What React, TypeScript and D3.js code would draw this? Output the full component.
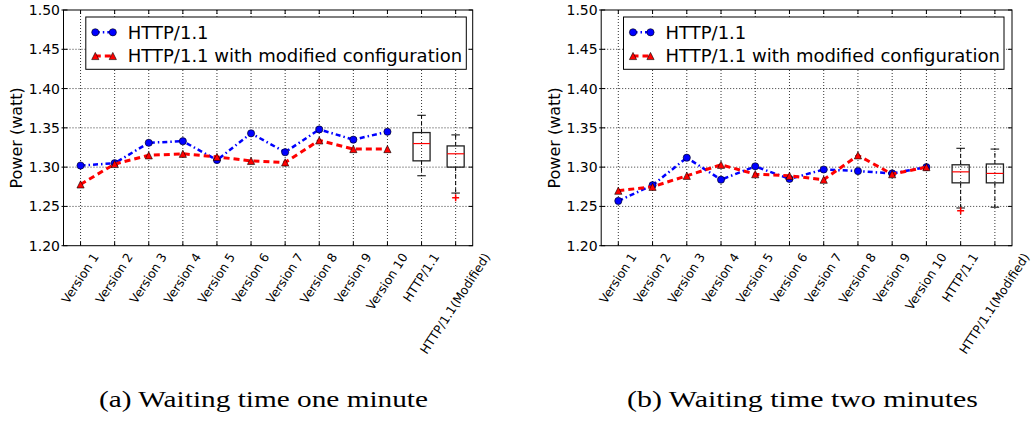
import React, { useEffect, useRef } from "react";
import * as d3 from "d3";

// ---------- data ----------
const categories = [
  "Version 1", "Version 2", "Version 3", "Version 4", "Version 5",
  "Version 6", "Version 7", "Version 8", "Version 9", "Version 10",
  "HTTP/1.1", "HTTP/1.1(Modified)",
];
const yTicks = [1.2, 1.25, 1.3, 1.35, 1.4, 1.45, 1.5];
const seriesNames = ["HTTP/1.1", "HTTP/1.1 with modified configuration"];
const captions = ["(a) Waiting time one minute", "(b) Waiting time two minutes"];
const yTitle = "Power (watt)";

// one minute
const oneMinHttp = [1.302, 1.305, 1.331, 1.333, 1.309, 1.343, 1.319, 1.348, 1.335, 1.345];
const oneMinModified = [1.278, 1.304, 1.315, 1.317, 1.313, 1.308, 1.306, 1.334, 1.323, 1.323];
// box stats: [whisker low, q1, median, q3, whisker high]
const oneMinBoxes = [
  [1.289, 1.308, 1.330, 1.344, 1.366],
  [1.267, 1.300, 1.317, 1.327, 1.341],
];
const oneMinOutliers = [[], [1.261]];

// two minutes
const twoMinHttp = [1.257, 1.277, 1.312, 1.284, 1.301, 1.285, 1.297, 1.295, 1.292, 1.300];
const twoMinModified = [1.270, 1.275, 1.289, 1.303, 1.291, 1.289, 1.284, 1.315, 1.291, 1.300];
const twoMinBoxes = [
  [1.248, 1.280, 1.294, 1.303, 1.324],
  [1.249, 1.280, 1.292, 1.304, 1.323],
];
const twoMinOutliers = [[1.2445], []];

const BLUE = "#0000ff";
const RED = "#ff0000";
const SANS = "'DejaVu Sans', sans-serif";

export default function App() {
  const ref = useRef<SVGSVGElement | null>(null);

  useEffect(() => {
    const svg = d3.select(ref.current);
    svg.selectAll("*").remove();

    const panels = [
      { left: 63.5, right: 472.7, http: oneMinHttp, mod: oneMinModified, boxes: oneMinBoxes, outliers: oneMinOutliers, caption: captions[0], capX: 263.5, capW: 329 },
      { left: 601.2, right: 1012.0, http: twoMinHttp, mod: twoMinModified, boxes: twoMinBoxes, outliers: twoMinOutliers, caption: captions[1], capX: 802.5, capW: 351 },
    ];
    const top = 10;
    const bottom = 245.7;

    panels.forEach((p) => {
      const g = svg.append("g");
      const x = d3.scaleLinear().domain([0.5, categories.length + 0.5]).range([p.left, p.right]);
      const y = d3.scaleLinear().domain([1.2, 1.5]).range([bottom, top]);

      // grid
      const grid = g.append("g").attr("stroke", "#000").attr("stroke-width", 0.8).attr("stroke-dasharray", "1,2");
      yTicks.slice(1, -1).forEach((t) => {
        grid.append("line").attr("x1", p.left).attr("x2", p.right).attr("y1", y(t)).attr("y2", y(t));
      });
      categories.forEach((_, i) => {
        grid.append("line").attr("x1", x(i + 1)).attr("x2", x(i + 1)).attr("y1", top).attr("y2", bottom);
      });

      // lines
      const line = d3.line<number>().x((_, i) => x(i + 1)).y((d) => y(d));
      g.append("path").attr("d", line(p.http) as string).attr("fill", "none").attr("stroke", BLUE)
        .attr("stroke-width", 2.5).attr("stroke-dasharray", "5,3,1.5,3");
      p.http.forEach((v, i) => {
        g.append("circle").attr("cx", x(i + 1)).attr("cy", y(v)).attr("r", 3.6)
          .attr("fill", BLUE).attr("stroke", "#000").attr("stroke-width", 0.6);
      });
      g.append("path").attr("d", line(p.mod) as string).attr("fill", "none").attr("stroke", RED)
        .attr("stroke-width", 3).attr("stroke-dasharray", "6,4");
      const tri = (cx: number, cy: number, r: number) =>
        `M${cx},${cy - r}L${cx - r},${cy + r}L${cx + r},${cy + r}Z`;
      p.mod.forEach((v, i) => {
        g.append("path").attr("d", tri(x(i + 1), y(v), 3.6))
          .attr("fill", RED).attr("stroke", "#000").attr("stroke-width", 0.6);
      });

      // boxplots
      p.boxes.forEach((b, k) => {
        const cx = x(11 + k);
        const hw = x(1.25) - x(1);
        const cw = hw / 2;
        const [lo, q1, med, q3, hi] = b;
        const bg = g.append("g");
        bg.append("line").attr("x1", cx).attr("x2", cx).attr("y1", y(q3)).attr("y2", y(hi))
          .attr("stroke", "#000").attr("stroke-width", 1).attr("stroke-dasharray", "4,3");
        bg.append("line").attr("x1", cx).attr("x2", cx).attr("y1", y(q1)).attr("y2", y(lo))
          .attr("stroke", "#000").attr("stroke-width", 1).attr("stroke-dasharray", "4,3");
        [lo, hi].forEach((v) => {
          bg.append("line").attr("x1", cx - cw).attr("x2", cx + cw).attr("y1", y(v)).attr("y2", y(v))
            .attr("stroke", "#000").attr("stroke-width", 1);
        });
        bg.append("rect").attr("x", cx - hw).attr("y", y(q3)).attr("width", 2 * hw).attr("height", y(q1) - y(q3))
          .attr("fill", "none").attr("stroke", "#222").attr("stroke-width", 1.3);
        bg.append("line").attr("x1", cx - hw).attr("x2", cx + hw).attr("y1", y(med)).attr("y2", y(med))
          .attr("stroke", RED).attr("stroke-width", 1.2);
        p.outliers[k].forEach((v) => {
          const oy = y(v);
          bg.append("path").attr("d", `M${cx - 3.5},${oy}H${cx + 3.5}M${cx},${oy - 3.5}V${oy + 3.5}`)
            .attr("stroke", RED).attr("stroke-width", 1.5);
        });
      });

      // frame
      g.append("rect").attr("x", p.left).attr("y", top).attr("width", p.right - p.left).attr("height", bottom - top)
        .attr("fill", "none").attr("stroke", "#000").attr("stroke-width", 1);

      // ticks
      const ticks = g.append("g").attr("stroke", "#000").attr("stroke-width", 1);
      yTicks.forEach((t) => {
        ticks.append("line").attr("x1", p.left - 2).attr("x2", p.left + 4).attr("y1", y(t)).attr("y2", y(t));
        ticks.append("line").attr("x1", p.right - 4).attr("x2", p.right).attr("y1", y(t)).attr("y2", y(t));
      });
      categories.forEach((_, i) => {
        ticks.append("line").attr("x1", x(i + 1)).attr("x2", x(i + 1)).attr("y1", bottom).attr("y2", bottom - 4);
        ticks.append("line").attr("x1", x(i + 1)).attr("x2", x(i + 1)).attr("y1", top).attr("y2", top + 4);
      });

      // y tick labels
      yTicks.forEach((t) => {
        g.append("text").text(d3.format(".2f")(t)).attr("x", p.left - 3.5).attr("y", y(t)).attr("dy", "0.36em")
          .attr("text-anchor", "end").attr("font-family", SANS).attr("font-size", 14).attr("fill", "#000");
      });

      // x tick labels (rotated)
      const th = 57;
      const rad = (th * Math.PI) / 180;
      categories.forEach((c, i) => {
        const t = g.append("text").text(c).attr("font-family", SANS).attr("font-size", 12.3)
          .attr("text-anchor", "middle").attr("dy", "0.35em").attr("fill", "#000");
        const L = (t.node() as SVGTextElement).getComputedTextLength();
        const bh = L * Math.sin(rad) + 10 * Math.cos(rad);
        t.attr("transform", `translate(${x(i + 1) - 0.5},${bottom + 6 + bh / 2}) rotate(${-th})`);
      });

      // y title
      g.append("text").text(yTitle).attr("font-family", SANS).attr("font-size", 16).attr("fill", "#000")
        .attr("text-anchor", "middle").attr("dy", "0.35em")
        .attr("transform", `translate(${p.left - 47},${(top + bottom) / 2 + 10}) rotate(-90)`);

      // legend
      const lx = p.left + 22.3;
      const ly = 17;
      const lg = g.append("g");
      lg.append("rect").attr("x", lx).attr("y", ly).attr("width", 380.5).attr("height", 52.3)
        .attr("fill", "#fff").attr("stroke", "#000").attr("stroke-width", 1);
      const rows = [ly + 15.3, ly + 39];
      lg.append("line").attr("x1", lx + 9).attr("x2", lx + 27).attr("y1", rows[0]).attr("y2", rows[0])
        .attr("stroke", BLUE).attr("stroke-width", 2.5).attr("stroke-dasharray", "5,3,1.5,3");
      [lx + 9.5, lx + 27].forEach((cx) => {
        lg.append("circle").attr("cx", cx).attr("cy", rows[0]).attr("r", 3.6).attr("fill", BLUE)
          .attr("stroke", "#000").attr("stroke-width", 0.6);
      });
      lg.append("line").attr("x1", lx + 9).attr("x2", lx + 27).attr("y1", rows[1]).attr("y2", rows[1])
        .attr("stroke", RED).attr("stroke-width", 3).attr("stroke-dasharray", "6,4");
      [lx + 9.5, lx + 27].forEach((cx) => {
        lg.append("path").attr("d", tri(cx, rows[1], 3.6)).attr("fill", RED)
          .attr("stroke", "#000").attr("stroke-width", 0.6);
      });
      seriesNames.forEach((n, k) => {
        lg.append("text").text(n).attr("x", lx + 42).attr("y", rows[k]).attr("dy", "0.36em")
          .attr("font-family", SANS).attr("font-size", 18).attr("fill", "#000");
      });

      // caption
      g.append("text").text(p.caption).attr("x", p.capX).attr("y", 407).attr("text-anchor", "middle")
        .attr("font-family", "'Liberation Serif', serif").attr("font-size", 23.5).attr("fill", "#000")
        .attr("textLength", p.capW).attr("lengthAdjust", "spacingAndGlyphs");
    });
  }, []);

  return (
    <svg
      ref={ref}
      width={1031}
      height={421}
      style={{ position: "absolute", left: 0, top: 0, display: "block", background: "#fff" }}
    />
  );
}
